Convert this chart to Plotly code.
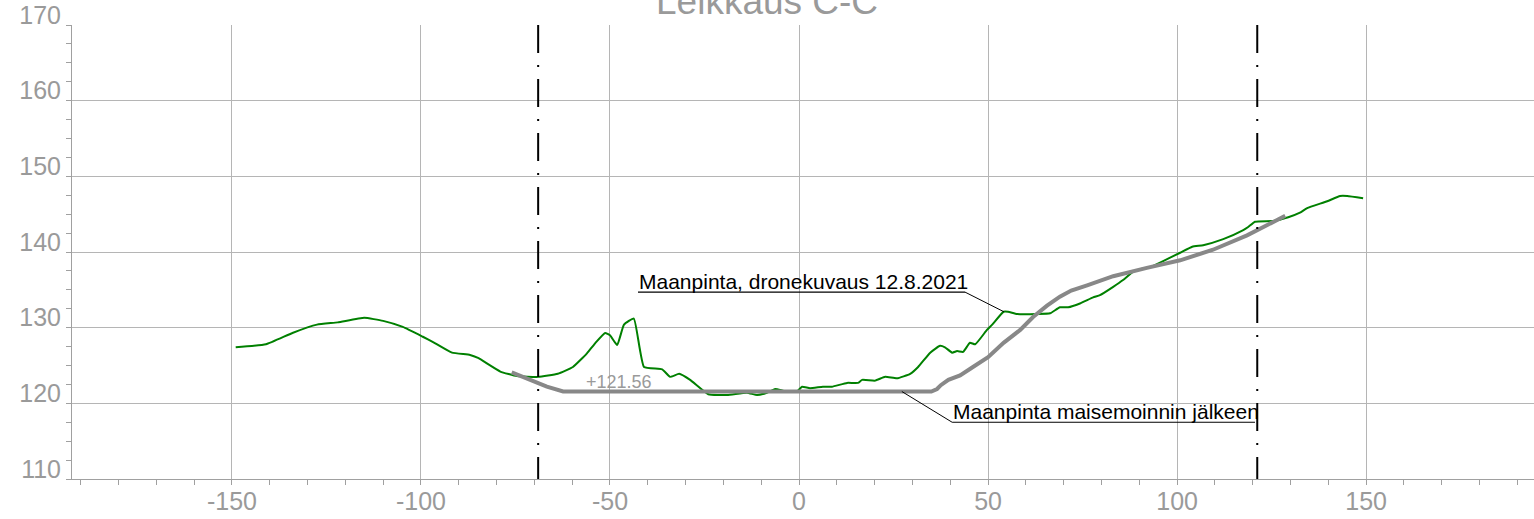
import plotly.graph_objects as go

# ---- data ----
TITLE = "Leikkaus C-C"

drone_x = [-149, -141, -134, -127.5, -122, -115, -110, -104.8, -99.5, -96.8, -91.8, -87, -84.9,
           -79, -74.6, -69, -63.8, -59.8, -56.1, -54, -51.3, -50, -48.1, -46.3, -43.7, -41,
           -36.2, -34.1, -31.7, -28.8, -24, -19, -13.8, -11.1, -8.5, -6.3, -3.7, -0.5, 0.8,
           2.9, 6.3, 8.7, 12.7, 15.6, 16.7, 20.1, 22.8, 25.9, 29.4, 31.5, 34.7, 37.3, 38.6,
           40.5, 41.8, 43.4, 45.2, 46.6, 49.7, 51.1, 54.1, 55.3, 57.7, 63, 66.4, 69, 71.2,
           74.3, 77.8, 79.6, 83.1, 85.7, 88.4, 90.2, 92.9, 96.3, 100.8, 104, 106.9, 112.2,
           117.5, 118.8, 120.6, 125.4, 129.4, 132.5, 134.4, 139.7, 143.1, 145, 149.2]
drone_y = [127.4, 127.8, 129.3, 130.4, 130.7, 131.3, 130.9, 130.1, 128.8, 128.1, 126.7, 126.4, 126.0,
           124.2, 123.6, 123.5, 123.9, 124.8, 126.6, 127.9, 129.3, 129.0, 127.7, 130.4, 131.2, 124.8,
           124.5, 123.5, 123.9, 123.1, 121.2, 121.1, 121.4, 121.1, 121.4, 121.9, 121.6, 121.6, 122.2,
           122.0, 122.2, 122.2, 122.7, 122.7, 123.1, 123.0, 123.5, 123.3, 123.9, 124.8, 126.7, 127.6, 127.4,
           126.7, 126.9, 126.8, 128.0, 127.8, 129.7, 130.4, 132.1, 132.1, 131.8, 131.8, 131.9, 132.7, 132.7,
           133.2, 134.0, 134.3, 135.4, 136.3, 137.4, 137.7, 138.0, 138.8, 139.9, 140.7, 140.9, 141.7,
           142.9, 143.3, 144.0, 144.1, 144.6, 145.2, 145.8, 146.7, 147.4, 147.4, 147.1]

after_x = [-76, -69, -66.7, -62.4, 35, 36.5, 37.5, 39.5, 42.6, 46, 50, 54.1, 58.5, 61.9, 65.6,
           69, 72, 76.2, 83.1, 92, 100.8, 109.5, 118.5, 124, 128.6]
after_y = [124.1, 122.7, 122.2, 121.56, 121.56, 121.9, 122.4, 123.1, 123.7, 124.8, 126.1, 128.0,
           129.7, 131.4, 132.9, 134.1, 134.9, 135.6, 136.8, 137.9, 138.9, 140.3, 142.2, 143.6, 144.8]

x_tick_vals = [-150, -100, -50, 0, 50, 100, 150]
x_tick_labels = ["-150", "-100", "-50", "0", "50", "100", "150"]

divider_x = [-69, 121.2]

level_text = "+121.56"
level_pos = (-56.8, 122.8)

label1_text = "Maanpinta, dronekuvaus 12.8.2021"
label1_line = (-42.6, 43.9, 134.7)     # underline x0, x1, y
label1_target = (54.2, 132.1)

label2_text = "Maanpinta maisemoinnin jälkeen"
label2_line = (40.5, 120.6, 117.5)
label2_target = (27.2, 121.56)

# ---- styles ----
GRID = "#b5b5b5"
AXIS = "#a0a0a0"
TXT = "#9a9a9a"
FONT = "Liberation Sans, Arial, sans-serif"

fig = go.Figure()
fig.add_trace(go.Scatter(x=drone_x, y=drone_y, mode="lines",
                         line=dict(color="#008000", width=2, shape="spline", smoothing=0.4),
                         hoverinfo="skip"))
fig.add_trace(go.Scatter(x=after_x, y=after_y, mode="lines",
                         line=dict(color="#888888", width=4),
                         hoverinfo="skip"))

shapes = []
for dx in divider_x:
    shapes.append(dict(type="line", xref="x", yref="paper", x0=dx, x1=dx, y0=1, y1=0,
                       line=dict(color="black", width=2, dash="28px,12px,2px,12px")))
for (x0, x1, yy), (tx, ty), left in [(label1_line, label1_target, False),
                                     (label2_line, label2_target, True)]:
    shapes.append(dict(type="line", xref="x", yref="y", x0=x0, x1=x1, y0=yy, y1=yy,
                       line=dict(color="black", width=1.2)))
    sx = x0 if left else x1
    shapes.append(dict(type="line", xref="x", yref="y", x0=sx, x1=tx, y0=yy, y1=ty,
                       line=dict(color="black", width=1)))

annotations = [
    dict(text=TITLE, xref="paper", yref="paper", x=0.4754, y=1, xanchor="center",
         yanchor="bottom", yshift=1, showarrow=False, font=dict(size=37, color=TXT, family=FONT)),
    dict(text=level_text, xref="x", yref="y", x=level_pos[0], y=level_pos[1], xanchor="left",
         yanchor="middle", showarrow=False, font=dict(size=18, color=TXT, family=FONT)),
    dict(text=label1_text, xref="x", yref="y", x=label1_line[0], y=label1_line[2], xanchor="left",
         yanchor="bottom", yshift=-3, xshift=-1, showarrow=False,
         font=dict(size=21, color="black", family=FONT)),
    dict(text=label2_text, xref="x", yref="y", x=label2_line[0], y=label2_line[2], xanchor="left",
         yanchor="bottom", yshift=-3, xshift=-1, showarrow=False,
         font=dict(size=21, color="black", family=FONT)),
]

fig.update_layout(
    width=1534, height=519,
    margin=dict(l=72, r=0, t=25, b=40),
    paper_bgcolor="white", plot_bgcolor="white",
    showlegend=False,
    shapes=shapes, annotations=annotations,
    xaxis=dict(range=[-192.3, 194.4], tickmode="array", tickvals=x_tick_vals, ticktext=x_tick_labels,
               ticks="", showgrid=True,
               gridcolor=GRID, gridwidth=1, zeroline=False, showline=True, linecolor=AXIS,
               linewidth=1, tickfont=dict(size=25, color=TXT, family=FONT),
               minor=dict(dtick=10, tick0=0, ticks="outside", ticklen=5, tickcolor=AXIS,
                          tickwidth=1, showgrid=False)),
    yaxis=dict(range=[110, 170], tick0=110, dtick=10, ticks="outside", ticklen=5, tickcolor=AXIS,
               showgrid=True, gridcolor=GRID, gridwidth=1, zeroline=False, showline=True,
               linecolor=AXIS, linewidth=1, ticklabelshift=-10,
               tickfont=dict(size=25, color=TXT, family=FONT),
               minor=dict(dtick=2.5, tick0=110, ticks="outside", ticklen=5, tickcolor=AXIS,
                          tickwidth=1, showgrid=False)),
)

fig.write_html("out.html", config={"displayModeBar": False},
               post_script="document.body.style.margin='0';document.body.style.overflow='hidden';")
